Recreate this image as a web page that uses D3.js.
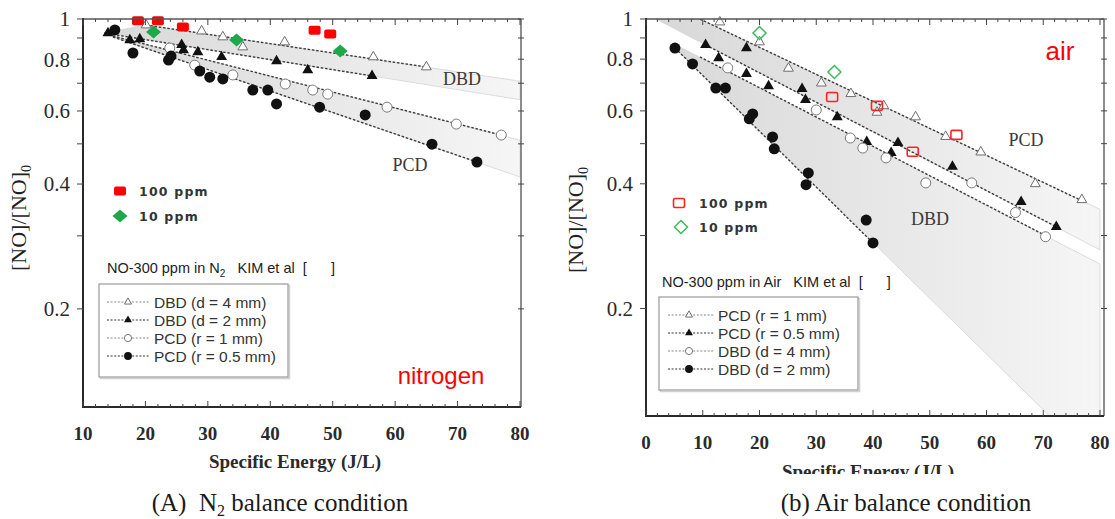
<!DOCTYPE html>
<html>
<head>
<meta charset="utf-8">
<script src="https://cdn.jsdelivr.net/npm/d3@7"></script>
<style>
  body { margin: 0; background: #fff; }
  svg { display: block; }
  text { white-space: pre; }
</style>
</head>
<body>
<svg width="1115" height="519"></svg>
<script>
// ---- axis ticks ----
const xTicksN2 = [10, 20, 30, 40, 50, 60, 70, 80];
const xTicksAir = [0, 10, 20, 30, 40, 50, 60, 70, 80];
const yTickValues = [1, 0.8, 0.6, 0.4, 0.2];
const yMinorValues = [0.9, 0.7, 0.5, 0.3];

// ---- (A) N2 balance : [specific energy J/L, NO/NO0] ----
const n2Dbd4 = [[20.1, 0.967], [29.0, 0.935], [32.4, 0.905], [35.6, 0.856], [42.3, 0.88], [56.5, 0.81], [65.0, 0.766]];
const n2Dbd2 = [[14.0, 0.925], [17.5, 0.89], [19.1, 0.895], [25.8, 0.866], [26.1, 0.842], [28.4, 0.832], [32.2, 0.81], [41.0, 0.792], [46.0, 0.753], [56.3, 0.729]];
const n2Pcd1 = [[23.9, 0.851], [27.9, 0.774], [34.0, 0.733], [42.4, 0.697], [46.8, 0.674], [49.2, 0.659], [58.7, 0.613], [69.8, 0.558], [77.0, 0.525]];
const n2Pcd05 = [[15.1, 0.941], [18.0, 0.828], [23.7, 0.796], [24.1, 0.814], [28.7, 0.749], [30.3, 0.724], [32.4, 0.717], [37.2, 0.674], [39.6, 0.674], [41.0, 0.624], [47.9, 0.613], [55.2, 0.587], [65.9, 0.499], [73.1, 0.452]];
const n2Ppm100 = [[18.8, 0.99], [22.0, 0.99], [26.0, 0.957], [47.1, 0.94], [49.6, 0.92]];
const n2Ppm10 = [[21.3, 0.93], [34.6, 0.89], [51.2, 0.837]];

// dashed fit lines (end points)
const n2FitDbd4 = [[20.1, 0.967], [65.0, 0.766]];
const n2FitDbd2 = [[13.4, 0.925], [56.3, 0.729]];
const n2FitPcd1 = [[14.8, 0.91], [77.0, 0.525]];
const n2FitPcd05 = [[14.8, 0.905], [73.1, 0.452]];
// shaded bands
const n2BandDbdTop = [[13.4, 0.925], [20.1, 0.967], [80, 0.708]];
const n2BandDbdBottom = [[13.4, 0.925], [80, 0.639]];
const n2BandPcdTop = [[14.8, 0.91], [80, 0.51]];
const n2BandPcdBottom = [[14.8, 0.905], [80, 0.416]];

// ---- (b) Air balance ----
const airPcd1 = [[13.0, 0.983], [20.0, 0.88], [25.1, 0.76], [30.9, 0.70], [36.1, 0.66], [40.7, 0.595], [41.9, 0.617], [47.5, 0.58], [52.8, 0.52], [59.0, 0.477], [68.6, 0.40], [76.8, 0.366]];
const airPcd05 = [[10.5, 0.866], [12.8, 0.805], [17.7, 0.851], [17.7, 0.737], [21.6, 0.689], [27.5, 0.678], [28.1, 0.638], [33.7, 0.58], [38.9, 0.505], [43.2, 0.475], [44.4, 0.502], [54.0, 0.44], [66.1, 0.362], [72.3, 0.315]];
const airDbd4 = [[14.4, 0.762], [30.0, 0.603], [36.0, 0.516], [38.2, 0.488], [42.3, 0.462], [49.3, 0.402], [57.4, 0.402], [65.1, 0.341], [70.4, 0.298]];
const airDbd2 = [[5.1, 0.851], [8.2, 0.779], [12.3, 0.681], [14.0, 0.681], [18.2, 0.574], [18.8, 0.59], [22.3, 0.519], [22.6, 0.486], [28.6, 0.425], [28.2, 0.398], [38.8, 0.327], [40.0, 0.288]];
const airPpm100 = [[32.8, 0.648], [40.7, 0.617], [47.0, 0.478], [54.7, 0.525]];
const airPpm10 = [[20.0, 0.925], [33.2, 0.745]];

const airFitPcd1 = [[9.5, 1.0], [76.8, 0.364]];
const airFitPcd05 = [[10.5, 0.866], [72.3, 0.315]];
const airFitDbd4 = [[9.5, 0.81], [70.4, 0.30]];
const airFitDbd2 = [[5.1, 0.851], [40.0, 0.288]];
const airBandPcdTop = [[9.5, 1.0], [80, 0.347]];
const airBandPcdBottom = [[1.75, 1.0], [80, 0.277]];
const airBandDbdTop = [[5.6, 0.861], [80, 0.256]];
const airBandDbdBottom = [[5.1, 0.851], [80, 0.0835]];

const n2Labels = ["DBD (d = 4 mm)", "DBD (d = 2 mm)", "PCD (r = 1 mm)", "PCD (r = 0.5 mm)"];
const airLabels = ["PCD (r = 1 mm)", "PCD (r = 0.5 mm)", "DBD (d = 4 mm)", "DBD (d = 2 mm)"];
const kinds = ["triOpen", "triFill", "circOpen", "circFill"];

const SERIF = "'Liberation Serif', 'DejaVu Serif', serif";
const SANS = "'Liberation Sans', Arial, sans-serif";

const svg = d3.select("svg");
const defs = svg.append("defs");

function marker(sel, kind, cx, cy, k = 1) {
  const t = `translate(${cx},${cy})`;
  if (kind === "triOpen") {
    sel.append("path").attr("d", d3.symbol(d3.symbolTriangle, 42 * k * k)()).attr("transform", t)
      .attr("fill", "#fff").attr("stroke", "#6e6e6e").attr("stroke-width", 1);
  } else if (kind === "triFill") {
    sel.append("path").attr("d", d3.symbol(d3.symbolTriangle, 52 * k * k)()).attr("transform", t)
      .attr("fill", "#111");
  } else if (kind === "circOpen") {
    sel.append("circle").attr("cx", cx).attr("cy", cy).attr("r", 5 * k)
      .attr("fill", "#fff").attr("stroke", "#7a7a7a").attr("stroke-width", 1);
  } else if (kind === "circFill") {
    sel.append("circle").attr("cx", cx).attr("cy", cy).attr("r", 5.5 * k).attr("fill", "#111");
  } else if (kind === "sqFill") {
    sel.append("rect").attr("x", cx - 6 * k).attr("y", cy - 4.5 * k).attr("width", 12 * k).attr("height", 9 * k)
      .attr("rx", 2).attr("fill", "#f00");
  } else if (kind === "sqOpen") {
    sel.append("rect").attr("x", cx - 5.5 * k).attr("y", cy - 4.5 * k).attr("width", 11 * k).attr("height", 9 * k)
      .attr("rx", 1.5).attr("fill", "none").attr("stroke", "#f22").attr("stroke-width", 1.6);
  } else if (kind === "diaFill") {
    const w = 7.5 * k, h = 6.5 * k;
    sel.append("path").attr("d", `M${cx},${cy - h}L${cx + w},${cy}L${cx},${cy + h}L${cx - w},${cy}Z`)
      .attr("fill", "#1ea84a");
  } else if (kind === "diaOpen") {
    const w = 6.5 * k, h = 6.5 * k;
    sel.append("path").attr("d", `M${cx},${cy - h}L${cx + w},${cy}L${cx},${cy + h}L${cx - w},${cy}Z`)
      .attr("fill", "none").attr("stroke", "#3dbb5c").attr("stroke-width", 1.5);
  }
}

function drawPanel(p) {
  const x = d3.scaleLinear().domain(p.eDomain).range([p.left, p.right]);
  const y = d3.scaleLog().domain(p.vDomain).range([p.bottom, p.top]);
  const line = d3.line().x(d => x(d[0])).y(d => y(d[1]));
  const g = svg.append("g");

  defs.append("clipPath").attr("id", "clip-" + p.id).append("rect")
    .attr("x", p.left).attr("y", p.top).attr("width", p.frameRight - p.left).attr("height", p.bottom - p.top);
  const grad = defs.append("linearGradient").attr("id", "grad-" + p.id)
    .attr("gradientUnits", "userSpaceOnUse")
    .attr("x1", p.left).attr("x2", p.frameRight).attr("y1", 0).attr("y2", 0);
  grad.append("stop").attr("offset", 0).attr("stop-color", "#d7d7d7");
  grad.append("stop").attr("offset", 1).attr("stop-color", "#f6f6f6");

  const plot = g.append("g").attr("clip-path", `url(#clip-${p.id})`);
  p.bands.forEach(b => {
    plot.append("path").attr("d", line(b.top.concat(b.bottom.slice().reverse())) + "Z")
      .attr("fill", `url(#grad-${p.id})`).attr("stroke", "#d4d4d4").attr("stroke-width", 0.8);
  });
  p.series.forEach(s => {
    plot.append("path").attr("d", line(s.fit)).attr("fill", "none")
      .attr("stroke", "#3c3c3c").attr("stroke-width", 1.4).attr("stroke-dasharray", "2.5,1.8");
  });

  // markers
  const mk = g.append("g");
  p.series.forEach(s => s.data.forEach(d => marker(mk, s.kind, x(d[0]), y(d[1]))));
  p.extra.forEach(s => s.data.forEach(d => marker(mk, s.kind, x(d[0]), y(d[1]))));

  // frame
  const fr = g.append("g").attr("fill", "none");
  fr.append("line").attr("x1", p.left).attr("x2", p.frameRight).attr("y1", p.top).attr("y2", p.top)
    .attr("stroke", "#555").attr("stroke-width", 1.5);
  fr.append("line").attr("x1", p.frameRight).attr("x2", p.frameRight).attr("y1", p.top).attr("y2", p.bottom)
    .attr("stroke", "#666").attr("stroke-width", 1.5);
  fr.append("line").attr("x1", p.left).attr("x2", p.left).attr("y1", p.top - 1).attr("y2", p.bottom + 1)
    .attr("stroke", "#2a2a2a").attr("stroke-width", 2);
  fr.append("line").attr("x1", p.left).attr("x2", p.frameRight).attr("y1", p.bottom).attr("y2", p.bottom)
    .attr("stroke", "#2a2a2a").attr("stroke-width", 2);

  // x ticks: minor every 2, major at labels (inward)
  const minor = d3.range(p.eDomain[0], p.eDomain[1] + 0.01, 2);
  const tk = g.append("g").attr("stroke", "#444").attr("stroke-width", 1);
  minor.forEach(e => {
    const big = p.xTicks.includes(e) ? 6 : 3;
    tk.append("line").attr("x1", x(e)).attr("x2", x(e)).attr("y1", p.top).attr("y2", p.top + big);
    tk.append("line").attr("x1", x(e)).attr("x2", x(e)).attr("y1", p.bottom).attr("y2", p.bottom - big);
  });
  yTickValues.concat(yMinorValues).forEach(v => {
    tk.append("line").attr("x1", p.left - 6).attr("x2", p.left).attr("y1", y(v)).attr("y2", y(v));
    tk.append("line").attr("x1", p.frameRight - 3).attr("x2", p.frameRight + 3).attr("y1", y(v)).attr("y2", y(v));
  });

  // tick labels
  g.append("g").selectAll("text").data(p.xTicks).join("text")
    .attr("x", d => x(d)).attr("y", p.xLabelY).attr("text-anchor", "middle")
    .attr("font-family", SERIF).attr("font-size", 19).attr("font-weight", "bold").attr("fill", "#2a2a2a")
    .text(d => d);
  g.append("g").selectAll("text").data(yTickValues).join("text")
    .attr("x", p.left - 13).attr("y", d => y(d)).attr("dy", "0.35em").attr("text-anchor", "end")
    .attr("font-family", SERIF).attr("font-size", 21).attr("fill", "#2a2a2a")
    .text(d => d);

  // axis titles
  const yt = g.append("text").attr("transform", `translate(${p.yTitleX},${p.yTitleY}) rotate(-90)`)
    .attr("text-anchor", "middle").attr("font-family", SERIF).attr("font-size", 22).attr("fill", "#222");
  yt.append("tspan").text("[NO]/[NO]");
  yt.append("tspan").attr("font-size", 14).attr("dy", 5).text("0");

  defs.append("clipPath").attr("id", "tclip-" + p.id).append("rect")
    .attr("x", 0).attr("y", 0).attr("width", 1115).attr("height", p.xTitleClip);
  g.append("text").attr("clip-path", `url(#tclip-${p.id})`)
    .attr("x", p.xTitleX).attr("y", p.xTitleY).attr("text-anchor", "middle")
    .attr("font-family", SERIF).attr("font-size", 19).attr("font-weight", "bold").attr("fill", "#2a2a2a")
    .text("Specific Energy (J/L)");

  // caption
  const cap = g.append("text").attr("x", p.capX).attr("y", 511).attr("text-anchor", "middle")
    .attr("font-family", SERIF).attr("font-size", 25).attr("fill", "#1a1a1a");
  p.caption(cap);

  // band names
  p.bandNames.forEach(b => {
    g.append("text").attr("x", b.x).attr("y", b.y).attr("text-anchor", "middle").attr("dy", "0.35em")
      .attr("font-family", SERIF).attr("font-size", 18).attr("fill", "#3a3a3a").text(b.t);
  });

  // gas name
  g.append("text").attr("x", p.gas.x).attr("y", p.gas.y).attr("text-anchor", "middle").attr("dy", "0.35em")
    .attr("font-family", SANS).attr("font-size", p.gas.size).attr("fill", "#f00").text(p.gas.t);

  // ppm legend
  const pl = g.append("g");
  p.ppm.forEach(r => {
    marker(pl, r.kind, r.mx, r.y);
    pl.append("text").attr("x", r.tx).attr("y", r.y).attr("dy", "0.36em")
      .attr("font-family", "'DejaVu Sans', sans-serif").attr("font-size", 12.5).attr("font-weight", "bold")
      .attr("letter-spacing", 1.2).attr("fill", "#333").text(r.t);
  });

  // series legend
  const L = p.legend;
  const lg = g.append("g");
  const hd = lg.append("text").attr("x", L.hx).attr("y", L.hy)
    .attr("font-family", SANS).attr("font-size", 14.5).attr("fill", "#222");
  L.header(hd);
  lg.append("rect").attr("x", L.bx + 1.5).attr("y", L.by + 1.5).attr("width", L.bw).attr("height", L.bh)
    .attr("fill", "none").attr("stroke", "#d0d0d0").attr("stroke-width", 1.5);
  lg.append("rect").attr("x", L.bx).attr("y", L.by).attr("width", L.bw).attr("height", L.bh)
    .attr("fill", "#fff").attr("stroke", "#999").attr("stroke-width", 1.2);
  p.labels.forEach((t, i) => {
    const ry = L.rows[i];
    lg.append("line").attr("x1", L.x0).attr("x2", L.x1).attr("y1", ry).attr("y2", ry)
      .attr("stroke", i % 2 ? "#333" : "#888").attr("stroke-width", 1.2).attr("stroke-dasharray", "2,1.6");
    marker(lg, kinds[i], L.mx, ry, 0.72);
    lg.append("text").attr("x", L.tx).attr("y", ry).attr("dy", "0.36em")
      .attr("font-family", SANS).attr("font-size", 15.5).attr("fill", "#333").text(t);
  });
}

drawPanel({
  id: "n2", left: 83, right: 520, frameRight: 521, top: 19, bottom: 407,
  eDomain: [10, 80], vDomain: [0.116, 1], xTicks: xTicksN2, xLabelY: 440,
  series: [
    { data: n2Dbd4, fit: n2FitDbd4, kind: "triOpen" },
    { data: n2Dbd2, fit: n2FitDbd2, kind: "triFill" },
    { data: n2Pcd1, fit: n2FitPcd1, kind: "circOpen" },
    { data: n2Pcd05, fit: n2FitPcd05, kind: "circFill" }
  ],
  extra: [{ data: n2Ppm100, kind: "sqFill" }, { data: n2Ppm10, kind: "diaFill" }],
  bands: [{ top: n2BandDbdTop, bottom: n2BandDbdBottom }, { top: n2BandPcdTop, bottom: n2BandPcdBottom }],
  bandNames: [{ t: "DBD", x: 462, y: 79 }, { t: "PCD", x: 410, y: 165 }],
  gas: { t: "nitrogen", x: 441, y: 376, size: 24 },
  ppm: [
    { kind: "sqFill", mx: 120, tx: 139, y: 191, t: "100 ppm" },
    { kind: "diaFill", mx: 120, tx: 139, y: 216, t: "10 ppm" }
  ],
  labels: n2Labels,
  legend: {
    hx: 107, hy: 273, bx: 99, by: 284, bw: 189, bh: 93,
    rows: [302, 320, 338, 356], x0: 107, x1: 150, mx: 128, tx: 154,
    header: t => {
      t.append("tspan").text("NO-300 ppm in N");
      t.append("tspan").attr("font-size", 10).attr("dy", 4).text("2");
      t.append("tspan").attr("dy", -4).text("   KIM et al  [      ]");
    }
  },
  yTitleX: 26, yTitleY: 218,
  xTitleX: 295, xTitleY: 468, xTitleClip: 519,
  capX: 280,
  caption: t => {
    t.append("tspan").text("(A)\u2002N");
    t.append("tspan").attr("font-size", 16).attr("dy", 5).text("2");
    t.append("tspan").attr("dy", -5).text(" balance condition");
  }
});

drawPanel({
  id: "air", left: 646, right: 1100, frameRight: 1104, top: 19, bottom: 416,
  eDomain: [0, 80], vDomain: [0.110, 1], xTicks: xTicksAir, xLabelY: 449,
  series: [
    { data: airPcd1, fit: airFitPcd1, kind: "triOpen" },
    { data: airPcd05, fit: airFitPcd05, kind: "triFill" },
    { data: airDbd4, fit: airFitDbd4, kind: "circOpen" },
    { data: airDbd2, fit: airFitDbd2, kind: "circFill" }
  ],
  extra: [{ data: airPpm100, kind: "sqOpen" }, { data: airPpm10, kind: "diaOpen" }],
  bands: [{ top: airBandPcdTop, bottom: airBandPcdBottom }, { top: airBandDbdTop, bottom: airBandDbdBottom }],
  bandNames: [{ t: "PCD", x: 1026, y: 140 }, { t: "DBD", x: 930, y: 219 }],
  gas: { t: "air", x: 1060, y: 51, size: 26 },
  ppm: [
    { kind: "sqOpen", mx: 679, tx: 699, y: 203, t: "100 ppm" },
    { kind: "diaOpen", mx: 681, tx: 699, y: 227, t: "10 ppm" }
  ],
  labels: airLabels,
  legend: {
    hx: 662, hy: 287, bx: 659, by: 297, bw: 199, bh: 93,
    rows: [315, 333, 351, 369], x0: 668, x1: 714, mx: 689, tx: 718,
    header: t => { t.append("tspan").text("NO-300 ppm in Air   KIM et al  [      ]"); }
  },
  yTitleX: 583, yTitleY: 220,
  xTitleX: 868, xTitleY: 478, xTitleClip: 474,
  capX: 906,
  caption: t => { t.append("tspan").text("(b) Air balance condition"); }
});
</script>
</body>
</html>
